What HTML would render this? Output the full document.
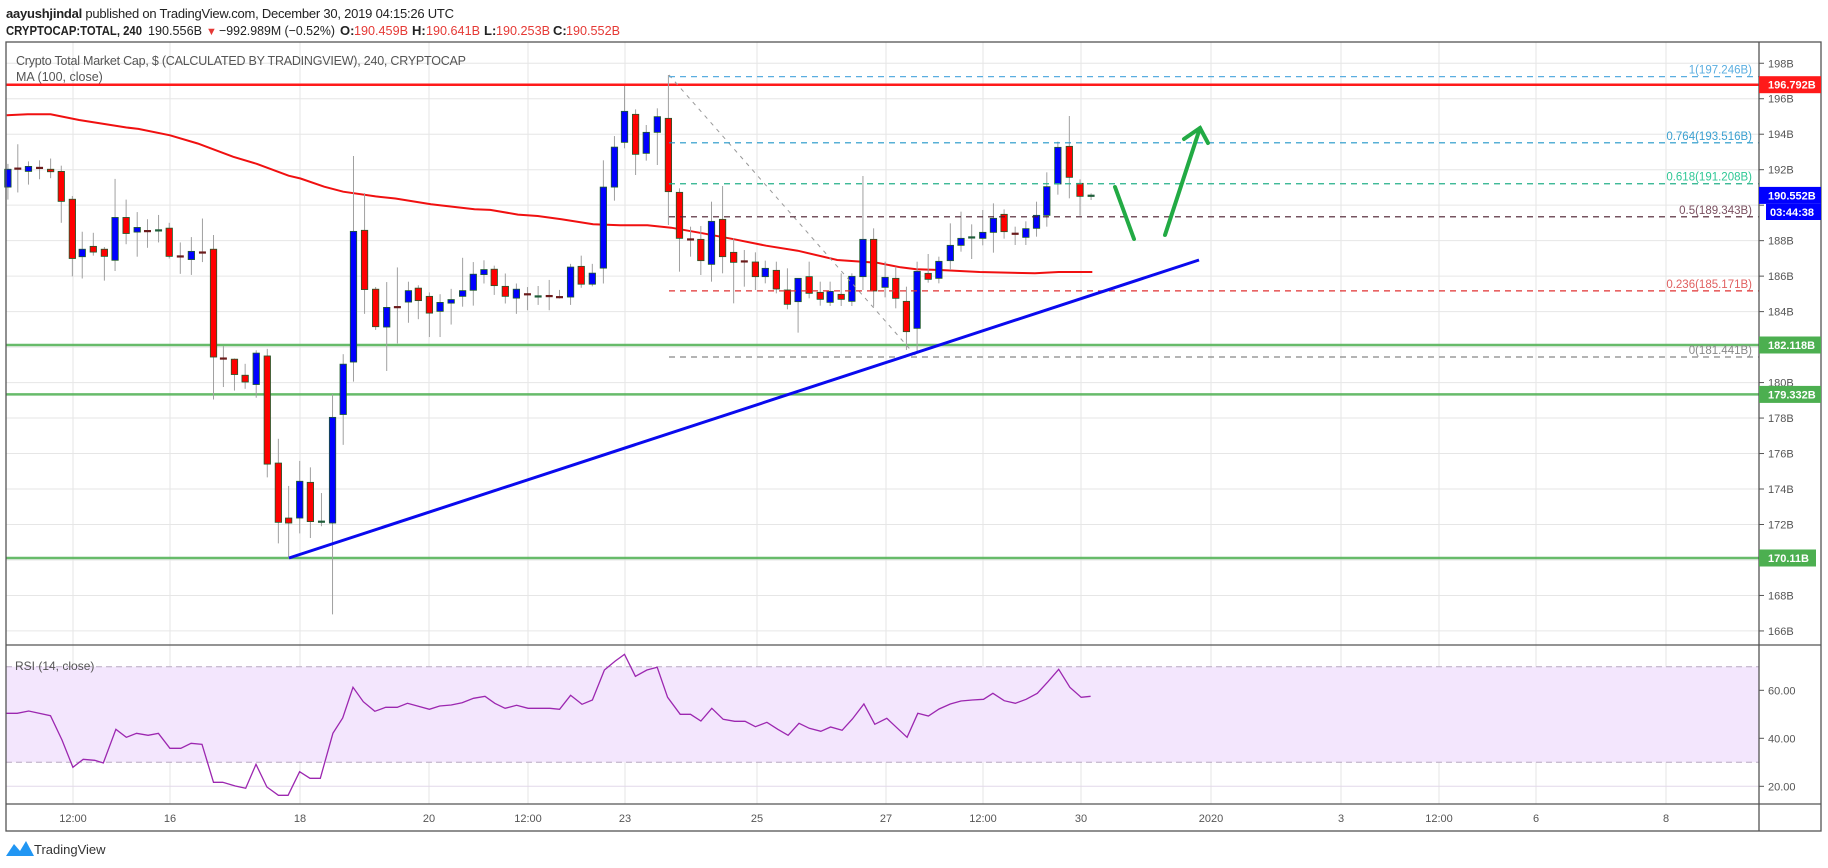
<!DOCTYPE html>
<html><head><meta charset="utf-8"><style>
html,body{margin:0;padding:0;background:#fff;}
svg{display:block;font-family:"Liberation Sans",sans-serif;}
</style></head><body>
<svg id="s" width="1828" height="868" viewBox="0 0 1828 868" xmlns="http://www.w3.org/2000/svg">
<rect width="1828" height="868" fill="#fff"/>
<g id="grid"></g>
<rect x="6" y="666.7" width="1753" height="95.6" fill="#f3e6fd"/>
<line x1="6" y1="666.7" x2="1759" y2="666.7" stroke="#b9a9c2" stroke-dasharray="6,4"/>
<line x1="6" y1="762.3" x2="1759" y2="762.3" stroke="#b9a9c2" stroke-dasharray="6,4"/>
<g id="hl"></g>
<g id="ma"></g>
<g id="candles"></g>
<g id="fib"></g>
<line x1="289" y1="558" x2="1199" y2="260" stroke="#0a0aee" stroke-width="3"/>
<g stroke="#22aa44" stroke-width="4" fill="none" stroke-linecap="round">
<line x1="1115" y1="187" x2="1134" y2="239"/>
<polyline points="1165,235 1200,128"/>
<polyline points="1184,139 1200,128 1208,143"/>
</g>
<g id="rsi"></g>
<g fill="none" stroke="#555" stroke-width="1.3">
<rect x="6" y="42" width="1815" height="789"/>
<line x1="1759" y1="42" x2="1759" y2="831"/>
<line x1="6" y1="645" x2="1821" y2="645"/>
<line x1="6" y1="804" x2="1821" y2="804"/>
</g>
<g id="axis" font-size="11" fill="#555"></g>
<text x="6" y="18" font-size="13" fill="#222" textLength="448"><tspan font-weight="bold">aayushjindal</tspan> published on TradingView.com, December 30, 2019 04:15:26 UTC</text>
<g font-size="13" fill="#222">
<text x="6" y="35" font-weight="bold" textLength="136" lengthAdjust="spacingAndGlyphs">CRYPTOCAP:TOTAL, 240</text>
<text x="148" y="35" textLength="54" lengthAdjust="spacingAndGlyphs">190.556B</text>
<text x="206" y="35" fill="#e53935" font-size="11">▼</text>
<text x="219" y="35" textLength="116" lengthAdjust="spacingAndGlyphs">−992.989M (−0.52%)</text>
<text x="340" y="35" font-weight="bold">O:</text>
<text x="354" y="35" fill="#e53935" textLength="54" lengthAdjust="spacingAndGlyphs">190.459B</text>
<text x="412" y="35" font-weight="bold">H:</text>
<text x="426" y="35" fill="#e53935" textLength="54" lengthAdjust="spacingAndGlyphs">190.641B</text>
<text x="484" y="35" font-weight="bold">L:</text>
<text x="496" y="35" fill="#e53935" textLength="54" lengthAdjust="spacingAndGlyphs">190.253B</text>
<text x="553" y="35" font-weight="bold">C:</text>
<text x="566" y="35" fill="#e53935" textLength="54" lengthAdjust="spacingAndGlyphs">190.552B</text>
</g>
<text x="16" y="65" font-size="12.5" fill="#555" textLength="450">Crypto Total Market Cap, $ (CALCULATED BY TRADINGVIEW), 240, CRYPTOCAP</text>
<text x="16" y="81" font-size="12.5" fill="#555">MA (100, close)</text>
<text x="15" y="670" font-size="12" fill="#555">RSI (14, close)</text>
<g transform="translate(6,838)">
<path d="M0 18 L8 6 L14 13 L20 3 L28 18 Z" fill="#2196f3"/>
</g>
<text x="34" y="854" font-size="13" fill="#333">TradingView</text>
</svg>
<script>
var NS="http://www.w3.org/2000/svg";
function el(p,t,a,txt){var e=document.createElementNS(NS,t);for(var k in a)e.setAttribute(k,a[k]);if(txt!=null)e.textContent=txt;document.getElementById(p).appendChild(e);return e;}
function py(p){return 345-(p-182.118)*17.74;}
var tx=[[73,"12:00"],[170,"16"],[300,"18"],[429,"20"],[528,"12:00"],[625,"23"],[757,"25"],[886,"27"],[983,"12:00"],[1081,"30"],[1211,"2020"],[1341,"3"],[1439,"12:00"],[1536,"6"],[1666,"8"]];
tx.forEach(function(t){el("grid","line",{x1:t[0],y1:42,x2:t[0],y2:804,stroke:"#e6e6e6"});
 el("axis","text",{x:t[0],y:822,"text-anchor":"middle"},t[1]);});
for(var p=166;p<=198;p+=2){var y=py(p);el("grid","line",{x1:6,y1:y,x2:1759,y2:y,stroke:"#e6e6e6"});
 el("axis","line",{x1:1759,y1:y,x2:1764,y2:y,stroke:"#555"});
 if(p!=182&&p!=190)el("axis","text",{x:1768,y:y+4},p+"B");}
[60,40,20].forEach(function(r){var y=834.3-2.4*r;el("grid","line",{x1:6,y1:y,x2:1759,y2:y,stroke:"#e2d8ea"});
 el("axis","line",{x1:1759,y1:y,x2:1764,y2:y,stroke:"#555"});el("axis","text",{x:1768,y:y+4},r+".00");});
el("hl","line",{x1:6,y1:84.7,x2:1759,y2:84.7,stroke:"#ff1a1a","stroke-width":2.5});
[[182.118],[179.332],[170.11]].forEach(function(v){var y=py(v[0]);el("hl","line",{x1:6,y1:y,x2:1759,y2:y,stroke:"#4caf50","stroke-width":2.5,"stroke-opacity":0.85});});
var m3=[[17,99],[70,96],[128,96],[200,112],[320,133],[350,137],[430,155],[500,178],[590,215],[650,235],[730,268],[760,276],[820,299],[868,313],[950,326],[1000,332],[1090,348],[1200,362],[1240,364],[1310,377],[1360,381],[1420,390],[1500,404],[1568,407]];
var m4=[[120,496],[180,503],[260,520],[340,538],[420,557],[500,572],[600,600],[700,608],[760,622],[800,628],[860,630],[960,636],[1100,640],[1160,636],[1245,636]];
var pts=m3.map(function(a){return (a[0]*0.3954).toFixed(1)+","+(80+a[1]*0.357).toFixed(1);}).concat(m4.map(function(a){return (600+a[0]*0.3954).toFixed(1)+","+(60+a[1]/3).toFixed(1);}));
el("ma","polyline",{points:pts.join(" "),fill:"none",stroke:"#f01010","stroke-width":2});
var c3=[[20,250,300,'b',235,335],[45,248,248,'d',180,315],[72,242,256,'b',228,293],[100,246,246,'d',225,278],[128,250,257,'r',220,275],[155,256,340,'r',240,400],[183,334,500,'r',325,550],[208,474,495,'b',425,556],[236,466,482,'r',428,492],[264,474,494,'r',468,562],[291,385,505,'b',277,535],[319,385,430,'r',335,460],[347,413,426,'b',370,495],[373,423,423,'d',390,470],[401,421,421,'g',378,455],[428,415,494,'r',400,500],[456,494,494,'d',455,543],[484,480,503,'b',440,546],[512,483,483,'d',388,510],[540,474,776,'r',434,895],[565,780,780,'d',745,860],[593,782,825,'r',780,870],[620,827,846,'r',795,865],[648,765,853,'b',757,890],[676,773,1076,'r',753,1113],[704,1073,1239,'r',1005,1298],[730,1227,1241,'r',1137,1340],[758,1124,1227,'b',1067,1270],[785,1127,1237,'r',1085,1283],[813,1237,1237,'g',1157,1250],[841,945,1241,'b',880,1497],[868,796,937,'b',768,1022],[894,424,790,'b',213,845],[922,421,587,'r',317,655],[950,586,691,'r',580,700],[978,637,692,'b',566,815],[1005,636,636,'d',525,738],[1033,590,622,'b',565,680],[1058,583,618,'r',575,670],[1086,606,653,'r',595,720],[1113,623,648,'b',600,720],[1141,615,625,'b',585,685],[1170,590,606,'b',498,635],[1197,544,589,'b',510,632],[1224,531,545,'b',505,570],[1250,530,576,'r',520,602],[1278,578,606,'r',542,626],[1306,586,611,'b',570,655],[1334,600,600,'d',580,645],[1361,606,606,'g',577,630],[1389,605,605,'d',560,645],[1415,608,608,'d',588,612],[1443,524,608,'b',515,630],[1470,522,572,'r',492,582],[1498,541,572,'b',515,578],[1526,300,527,'b',225,570],[1554,188,300,'b',157,338]];
var c4=[[62,154,247,'b',78,265],[90,163,283,'r',148,345],[117,217,280,'b',195,302],[145,170,217,'b',145,315],[173,175,395,'r',45,495],[201,397,535,'r',385,635],[229,538,538,'d',500,590],[255,538,602,'r',498,645],[282,484,613,'b',425,665],[310,478,590,'r',378,640],[338,577,607,'r',535,730],[365,604,604,'d',570,680],[393,606,650,'r',577,690],[418,625,650,'b',602,670],[446,631,687,'r',605,700],[474,690,733,'r',625,748],[501,655,725,'b',655,818],[529,650,700,'r',605,715],[557,697,718,'r',665,737],[582,694,727,'b',665,738],[610,703,718,'r',640,738],[637,649,724,'b',640,738],[665,538,650,'b',348,690],[692,538,693,'r',505,740],[721,652,682,'b',605,712],[748,655,715,'r',620,745],[775,724,815,'r',680,870],[802,634,805,'b',605,880],[830,640,658,'r',582,668],[857,604,655,'b',590,670],[886,556,602,'b',490,630],[913,535,556,'b',455,575],[940,532,532,'g',493,597],[968,517,535,'b',450,556],[995,475,517,'b',430,578],[1022,463,515,'r',448,536],[1050,521,521,'d',500,555],[1077,506,532,'b',484,555],[1104,466,505,'b',425,530],[1130,380,466,'b',337,500],[1158,262,372,'b',245,404],[1187,259,352,'r',168,415],[1214,370,409,'r',358,467],[1242,407,407,'g',400,420]];
function draw(c,fx,fy){var x=fx(c[0]),t=fy(c[1]),b=fy(c[2]),wt=fy(c[4]),wb=fy(c[5]);
 el("candles","line",{x1:x,y1:wt,x2:x,y2:wb,stroke:"#a0a0a0","stroke-width":1});
 var col=c[3];
 if(col=='d'||col=='g'){el("candles","rect",{x:x-3.5,y:t-1,width:7,height:2.2,fill:col=='d'?"#6b1b1b":"#1f5e3a"});return;}
 el("candles","rect",{x:x-3.2,y:t,width:6.4,height:Math.max(b-t,2),fill:col=='b'?"#0000ff":"#ff0000",stroke:"#1e5b2a","stroke-width":0.8});}
c3.forEach(function(c){draw(c,function(v){return v*0.3954;},function(v){return 80+v*0.357;});});
c4.forEach(function(c){draw(c,function(v){return 600+v*0.3954;},function(v){return 60+v/3;});});
el("fib","line",{x1:669,y1:75,x2:916,y2:356,stroke:"#999","stroke-dasharray":"4,5"});
var fib=[[197.246,"1(197.246B)","#5aaee0","#5aaee0"],[193.516,"0.764(193.516B)","#2196c8","#3aa0d0"],[191.208,"0.618(191.208B)","#26b08a","#2ec795"],[189.343,"0.5(189.343B)","#4a1c2c","#7a5060"],[185.171,"0.236(185.171B)","#e03030","#e06060"],[181.441,"0(181.441B)","#888","#888"]];
fib.forEach(function(f){var y=py(f[0]);el("fib","line",{x1:669,y1:y,x2:1759,y2:y,stroke:f[2],"stroke-width":1.2,"stroke-dasharray":"6,5"});
 el("fib","text",{x:1752,y:y-3,"text-anchor":"end","font-size":11.5,fill:f[3]},f[1]);});
var r5=[[10,340],[30,340],[50,333],[88,347],[108,420],[127,502],[145,478],[165,481],[180,489],[202,388],[220,412],[238,400],[258,406],[276,400],[296,445],[315,445],[333,430],[352,433],[372,547],[388,547],[410,558],[428,565],[446,493],[465,561],[485,586],[502,586],[522,515],[540,535],[558,535],[580,400],[597,354],[615,262],[633,305],[653,334],[672,322],[692,322],[710,310],[748,328],[766,318],[786,315],[805,308],[825,295],[845,289],[862,310],[880,325],[900,316],[920,325],[940,325],[958,325],[975,328],[994,286],[1014,313],[1032,300],[1053,210],[1072,183],[1088,163],[1107,229],[1127,210],[1145,202],[1163,292],[1185,343],[1203,343],[1221,363],[1240,325],[1260,358],[1280,364],[1298,364],[1316,380],[1336,367],[1355,388],[1373,406],[1392,370],[1410,385],[1430,394],[1447,381],[1467,391],[1485,357],[1505,312],[1524,373],[1545,355],[1568,392]];
var r6=[[12,412],[30,340],[48,348],[66,327],[85,312],[103,303],[122,300],[141,298],[157,280],[176,302],[195,310],[213,298],[232,280],[250,245],[268,208],[287,262],[306,292],[322,289]];
var rp=r5.map(function(a){return (a[0]*0.574).toFixed(1)+","+(600+a[1]/3).toFixed(1);}).concat(r6.map(function(a){return (900+a[0]*0.592).toFixed(1)+","+(600+a[1]/3).toFixed(1);}));
el("rsi","polyline",{points:rp.join(" "),fill:"none",stroke:"#9c27b0","stroke-width":1.3});
function box(y,txt,col,x2){el("axis","rect",{x:1759,y:y-8.5,width:(x2||1821)-1759,height:17,fill:col});
 el("axis","text",{x:1768,y:y+4,fill:"#fff","font-weight":"bold"},txt);}
box(84.7,"196.792B","#ff1a1a");
box(195.4,"190.552B","#0000ff");
el("axis","rect",{x:1766,y:204,width:55,height:16,fill:"#0000ff"});
el("axis","text",{x:1770,y:216,fill:"#fff","font-weight":"bold"},"03:44:38");
box(345,"182.118B","#4caf50");
box(394.4,"179.332B","#4caf50");
box(558,"170.11B","#4caf50",1816);
</script>
</body></html>
